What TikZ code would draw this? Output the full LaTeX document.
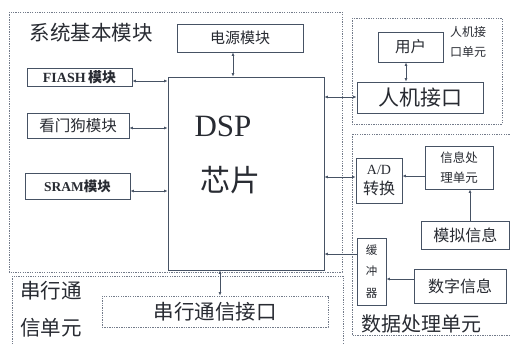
\documentclass[tikz,border=0pt]{standalone}
\usepackage{fontspec}
\setmainfont{Liberation Serif}
\newfontfamily\cjk{Noto Sans CJK SC}
\usetikzlibrary{arrows.meta}
\definecolor{ln}{RGB}{70,82,100}
\definecolor{tx}{RGB}{40,43,50}
\definecolor{dl}{RGB}{115,123,138}
\tikzset{
  box/.style={draw=ln, line width=0.9pt, text=tx, inner sep=0pt, anchor=center},
  region/.style={draw=dl, line width=0.9pt, dash pattern=on 1.3pt off 1.1pt},
  lbl/.style={text=tx, inner sep=0pt, anchor=center},
  conn/.style={draw=ln, line width=0.8pt, {Latex[length=3.5pt,width=3pt]}-{Latex[length=3.5pt,width=3pt]}},
  connl/.style={draw=ln, line width=0.8pt, {Latex[length=3.5pt,width=3pt]}-},
}
\begin{document}
\begin{tikzpicture}[x=1pt,y=-1pt]
\useasboundingbox (0,0) rectangle (510,343);
\fill[white] (0,0) rectangle (510,343);
% regions
\draw[region] (9,12) rectangle (342,272);
\draw[region] (12,276) rectangle (343,346);
\draw[region] (352,18) rectangle (502,124);
\draw[region] (352,134) rectangle (513,335);
% boxes
\node[box, minimum width=126pt, minimum height=28pt, font=\cjk\fontsize{15}{15}\selectfont] (power) at (240,38) {电源模块};
\node[box, minimum width=105pt, minimum height=18pt] (flash) at (79.5,77) {\fontsize{14}{14}\selectfont\bfseries FIASH\,\cjk 模块};
\node[box, minimum width=102pt, minimum height=25pt, font=\cjk\fontsize{15.5}{15.5}\selectfont] (dog) at (78,125.5) {看门狗模块};
\node[box, minimum width=105pt, minimum height=26pt] (sram) at (77.5,186) {\fontsize{13.5}{13.5}\selectfont\bfseries SRAM\cjk 模块};
\node[box, minimum width=156pt, minimum height=193pt] (dsp) at (246,173.5) {};
\node[lbl, font=\fontsize{31}{31}\selectfont] (dsptxt) at (223,126) {DSP};
\node[lbl, font=\cjk\fontsize{30}{30}\selectfont] (chip) at (230,180) {芯片};
\node[box, minimum width=65pt, minimum height=30pt, font=\cjk\fontsize{15.5}{15.5}\selectfont] (user) at (410.5,47) {用户};
\node[box, minimum width=126pt, minimum height=31pt, font=\cjk\fontsize{21}{21}\selectfont] (hmi) at (420,97.5) {人机接口};
\node[lbl, font=\cjk\fontsize{12}{12}\selectfont, align=center] (hmiu) at (468,42) {人机接\\[8pt]口单元};
\node[box, minimum width=46pt, minimum height=45pt, align=center] (ad) at (379,180.5) {\fontsize{14}{14}\selectfont A/D\\[5pt]{\cjk\fontsize{16}{16}\selectfont 转换}};
\node[box, minimum width=68pt, minimum height=43pt, align=center, font=\cjk\fontsize{12.5}{12.5}\selectfont] (info) at (459,167.5) {信息处\\[8pt]理单元};
\node[box, minimum width=88.5pt, minimum height=28pt, font=\cjk\fontsize{16}{16}\selectfont] (analog) at (465.25,235) {模拟信息};
\node[box, minimum width=29pt, minimum height=67pt, align=center, font=\cjk\fontsize{11.5}{11.5}\selectfont] (buf) at (371.5,271.5) {缓\\[10pt]冲\\[10pt]器};
\node[box, minimum width=92pt, minimum height=34pt, font=\cjk\fontsize{16}{16}\selectfont] (digit) at (460,286) {数字信息};
\node[box, region, minimum width=226pt, minimum height=31pt, font=\cjk\fontsize{20.5}{20.5}\selectfont] (serial) at (215,311.5) {串行通信接口};
% region labels
\node[lbl, font=\cjk\fontsize{20.5}{20.5}\selectfont] (systxt) at (91,33) {系统基本模块};
\node[lbl, font=\cjk\fontsize{20.5}{20.5}\selectfont, align=center] (sertxt) at (51,309) {串行通\\[16pt]信单元};
\node[lbl, font=\cjk\fontsize{20}{20}\selectfont] (datatxt) at (421,324) {数据处理单元};
% connectors
\draw[conn] (power.south -| 233,0) -- (dsp.north -| 233,0);
\draw[conn] (flash.east |- 0,81) -- (dsp.west |- 0,81);
\draw[conn] (dog.east |- 0,128) -- (dsp.west |- 0,128);
\draw[conn] (sram.east |- 0,191) -- (dsp.west |- 0,191);
\draw[conn] (dsp.east |- 0,97) -- (hmi.west |- 0,97);
\draw[conn] (user.south -| 406,0) -- (hmi.north -| 406,0);
\draw[conn] (dsp.east |- 0,177) -- (ad.west |- 0,177);
\draw[connl] (ad.east |- 0,176) -- (info.west |- 0,176);
\draw[connl] (info.south -| 470,0) -- (analog.north -| 470,0);
\draw[connl] (dsp.east |- 0,254) -- (buf.west |- 0,254);
\draw[connl] (buf.east |- 0,279) -- (digit.west |- 0,279);
\draw[conn] (dsp.south -| 220,0) -- (serial.north -| 220,0);
\end{tikzpicture}
\end{document}
